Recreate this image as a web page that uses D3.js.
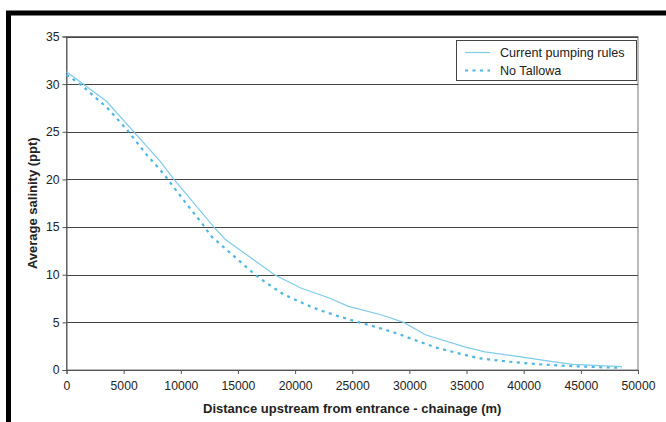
<!DOCTYPE html>
<html lang="en">
    <head>
        <meta charset="UTF-8" />
        <title>Average salinity</title>
        <style>
            body { margin: 0; background: #fff; }
        </style>
    </head>
    <body>
        <div id="main"></div>
        <script src="https://cdn.jsdelivr.net/npm/d3@7/dist/d3.min.js"></script>
        <script>
            // chainage (m) and salinity (ppt)
            const currentX = [0, 3500, 8200, 9400, 12900, 13900, 16100, 18200, 20500, 23100, 24600, 27500, 29500, 31400, 34900, 36600, 39600, 42500, 44300, 48600]
            const currentY = [31.3, 28.2, 21.9, 20.0, 15.0, 13.7, 11.8, 10.0, 8.6, 7.5, 6.7, 5.8, 5.0, 3.7, 2.4, 1.9, 1.4, 0.87, 0.6, 0.35]
            const noTallowaX = [0, 1400, 2800, 3500, 5300, 7000, 8200, 8800, 10400, 12100, 12600, 16500, 17300, 18900, 20500, 22100, 23900, 25600, 27400, 29000, 30800, 32500, 34300, 36100, 38700, 41300, 44000, 46900, 48600]
            const noTallowaY = [31.0, 29.8, 28.3, 27.6, 25.2, 22.6, 21.0, 20.1, 17.6, 15.0, 14.1, 10.0, 9.3, 8.0, 7.1, 6.3, 5.6, 5.0, 4.4, 3.8, 3.0, 2.3, 1.75, 1.23, 0.87, 0.6, 0.42, 0.28, 0.24]
            const seriesNames = ["Current pumping rules", "No Tallowa"]
            const xTicks = [0, 5000, 10000, 15000, 20000, 25000, 30000, 35000, 40000, 45000, 50000]
            const yTicks = [0, 5, 10, 15, 20, 25, 30, 35]

            const svgWidth = 666
            const svgHeight = 422
            const fontFamily = "Liberation Sans, Arial, sans-serif"
            const plotLeft = 66.5
            const plotRight = 638
            const plotTop = 36.5
            const plotBottom = 370
            const solidColor = "#7fcbea"
            const dashColor = "#4db6e2"

            const svg = d3
                .select("#main")
                .append("svg")
                .attr("width", svgWidth)
                .attr("height", svgHeight)

            // black frame, cut off at right and bottom
            svg.append("rect")
                .attr("x", 8.5)
                .attr("y", 13)
                .attr("width", 700)
                .attr("height", 500)
                .attr("fill", "none")
                .attr("stroke", "#000")
                .attr("stroke-width", 5)

            const x = d3.scaleLinear().domain([0, 50000]).range([plotLeft, plotRight])
            const y = d3.scaleLinear().domain([0, 35]).range([plotBottom, plotTop])

            // plot area border
            svg.append("rect")
                .attr("x", plotLeft)
                .attr("y", plotTop)
                .attr("width", plotRight - plotLeft)
                .attr("height", plotBottom - plotTop)
                .attr("fill", "none")
                .attr("stroke", "#777")
                .attr("stroke-width", 1)

            // grid lines
            svg.append("g")
                .selectAll("line")
                .data(yTicks.filter((d) => d > 0))
                .enter()
                .append("line")
                .attr("x1", plotLeft)
                .attr("x2", plotRight)
                .attr("y1", (d) => Math.round(y(d)) + 0.5)
                .attr("y2", (d) => Math.round(y(d)) + 0.5)
                .attr("stroke", "#444")
                .attr("stroke-width", 1.2)

            const yAxis = svg
                .append("g")
                .attr("transform", `translate(${plotLeft},0)`)
                .call(
                    d3.axisLeft(y).tickValues(yTicks).tickSize(4).tickPadding(3)
                )
            const xAxis = svg
                .append("g")
                .attr("transform", `translate(0,${plotBottom})`)
                .call(
                    d3.axisBottom(x).tickValues(xTicks).tickSize(4).tickPadding(7).tickFormat(d3.format("d"))
                )
            ;[xAxis, yAxis].forEach((a) => {
                a.select(".domain").attr("stroke", "#555")
                a.selectAll(".tick line").attr("stroke", "#555")
                a.selectAll("text")
                    .attr("fill", "#222")
                    .attr("font-size", 12.2)
                    .attr("font-family", fontFamily)
            })

            const line = d3
                .line()
                .x((d) => x(d[0]))
                .y((d) => y(d[1]))

            svg.append("path")
                .datum(noTallowaX.map((d, i) => [d, noTallowaY[i]]))
                .attr("d", line)
                .attr("fill", "none")
                .attr("stroke", dashColor)
                .attr("stroke-width", 2.2)
                .attr("stroke-dasharray", "3,4.5")

            svg.append("path")
                .datum(currentX.map((d, i) => [d, currentY[i]]))
                .attr("d", line)
                .attr("fill", "none")
                .attr("stroke", solidColor)
                .attr("stroke-width", 1.2)

            // axis titles
            svg.append("text")
                .attr("x", (plotLeft + plotRight) / 2)
                .attr("y", 413)
                .attr("text-anchor", "middle")
                .attr("font-size", 13)
                .attr("font-weight", 700)
                .attr("font-family", fontFamily)
                .attr("fill", "#222")
                .text("Distance upstream from entrance - chainage (m)")
            svg.append("text")
                .attr("transform", `translate(37,${(plotTop + plotBottom) / 2}) rotate(-90)`)
                .attr("text-anchor", "middle")
                .attr("font-size", 13)
                .attr("font-weight", 700)
                .attr("font-family", fontFamily)
                .attr("fill", "#222")
                .text("Average salinity (ppt)")

            // legend
            const legend = svg.append("g").attr("transform", "translate(456,40)")
            legend.append("rect")
                .attr("x", 0.5)
                .attr("y", 0.5)
                .attr("width", 180)
                .attr("height", 40)
                .attr("fill", "#fff")
                .attr("stroke", "#444")
                .attr("stroke-width", 1)
            legend.selectAll("line")
                .data(seriesNames)
                .enter()
                .append("line")
                .attr("x1", 9)
                .attr("x2", 34)
                .attr("y1", (d, i) => 12.5 + i * 18)
                .attr("y2", (d, i) => 12.5 + i * 18)
                .attr("stroke", (d, i) => (i === 0 ? solidColor : dashColor))
                .attr("stroke-width", (d, i) => (i === 0 ? 1.2 : 2.2))
                .attr("stroke-dasharray", (d, i) => (i === 0 ? null : "3,4.5"))
            legend.selectAll("text")
                .data(seriesNames)
                .enter()
                .append("text")
                .attr("x", 44)
                .attr("y", (d, i) => 16.5 + i * 18)
                .attr("font-size", 12.6)
                .attr("font-family", fontFamily)
                .attr("fill", "#222")
                .text((d) => d)
        </script>
    </body>
</html>
